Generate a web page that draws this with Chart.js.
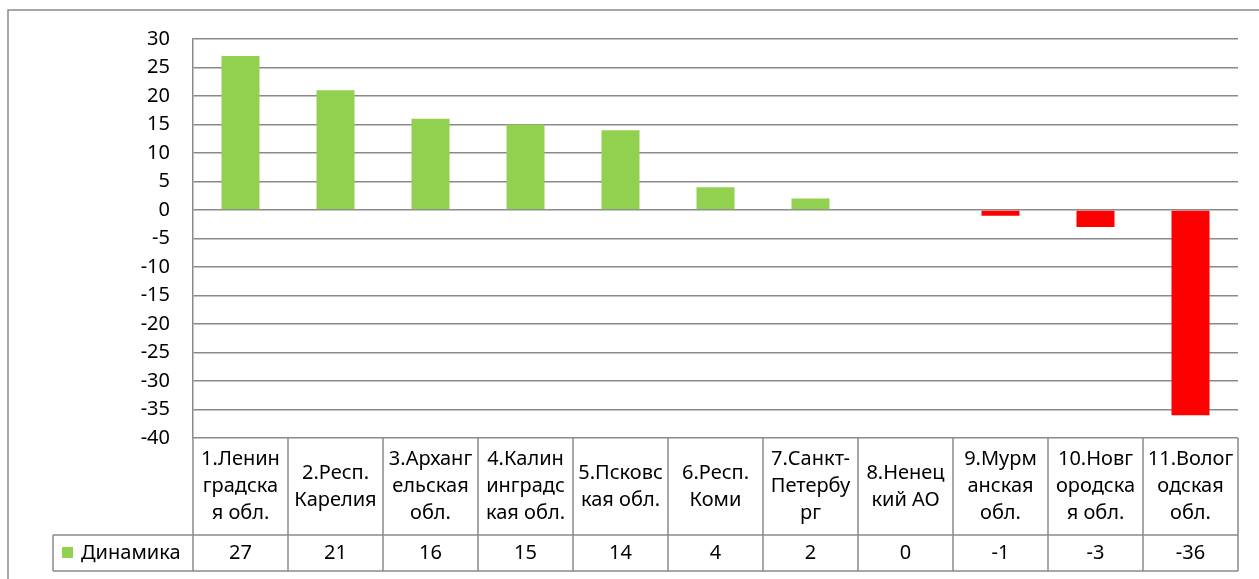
<!doctype html>
<html lang="ru"><head>
<meta charset="utf-8"/>
<title>Динамика</title>
<script src="https://cdn.jsdelivr.net/npm/chart.js@4.4.6/dist/chart.umd.min.js"></script>
<style>
  html,body{margin:0;padding:0;background:#fff}
  #wrap{position:absolute;left:0;top:0;width:1259px;height:579px}
</style></head>
<body>
<div id="wrap"><canvas id="c"></canvas></div>
<script>
// categories as they wrap inside the data-table cells
const CATEGORIES=[
  ['1.Ленин','градска','я обл.'],
  ['2.Респ.','Карелия'],
  ['3.Арханг','ельская','обл.'],
  ['4.Калин','инградс','кая обл.'],
  ['5.Псковс','кая обл.'],
  ['6.Респ.','Коми'],
  ['7.Санкт-','Петербу','рг'],
  ['8.Ненец','кий АО'],
  ['9.Мурм','анская','обл.'],
  ['10.Новг','ородска','я обл.'],
  ['11.Волог','одская','обл.']
];
const SERIES_NAME='Динамика';
const VALUES=[27,21,16,15,14,4,2,0,-1,-3,-36];
const Y_MIN=-40, Y_MAX=30, Y_STEP=5;

const GREEN='#92d050', RED='#ff0000', LINE='#8a8a8a', INK='#000';
const FONT='"Noto Sans", sans-serif';

// excel-like data table under the plot + outer frame
const table={
  id:'table',
  beforeDraw(ch){
    const c=ch.ctx;
    c.save();c.strokeStyle=LINE;c.lineWidth=1.5;
    c.beginPath();c.moveTo(8,ch.height+2);c.lineTo(8,10);c.lineTo(ch.width+2,10);c.stroke();
    c.restore();
  },
  afterDraw(ch){
    const c=ch.ctx, a=ch.chartArea, n=CATEGORIES.length, w=(a.right-a.left)/n;
    const top=a.bottom, mid=535, bot=571, legL=53;
    c.save();
    c.strokeStyle=LINE;c.lineWidth=1.5;
    c.beginPath();
    c.moveTo(legL,mid);c.lineTo(a.right,mid);
    c.moveTo(legL,bot);c.lineTo(a.right,bot);
    c.moveTo(legL,mid);c.lineTo(legL,bot);
    for(let i=0;i<=n;i++){const x=a.left+i*w;c.moveTo(x,top);c.lineTo(x,bot);}
    c.stroke();
    c.fillStyle=INK;c.font='20px '+FONT;c.textAlign='center';c.textBaseline='middle';
    const lh=27, hc=(top+mid)/2;
    CATEGORIES.forEach((lines,i)=>{
      const x=a.left+(i+.5)*w, y0=hc-(lines.length-1)*lh/2;
      lines.forEach((t,j)=>c.fillText(t,x,y0+j*lh));
      c.fillText(String(VALUES[i]),x,(mid+bot)/2);
    });
    c.fillStyle=GREEN;c.fillRect(62,547,11,11);
    c.fillStyle=INK;c.textAlign='left';c.fillText(SERIES_NAME,81,(mid+bot)/2);
    c.restore();
  }
};

new Chart(document.getElementById('c'),{
  type:'bar',
  data:{labels:CATEGORIES,datasets:[{label:SERIES_NAME,data:VALUES,
    backgroundColor:VALUES.map(v=>v<0?RED:GREEN),barPercentage:.4,categoryPercentage:1}]},
  options:{
    responsive:true,maintainAspectRatio:false,animation:false,
    layout:{padding:{left:0,top:39,right:21,bottom:141}},
    plugins:{legend:{display:false},tooltip:{enabled:false}},
    scales:{
      x:{display:false},
      y:{min:Y_MIN,max:Y_MAX,
        afterFit:s=>{s.width=193;},
        ticks:{stepSize:Y_STEP,color:INK,padding:23,font:{family:FONT,size:20}},
        grid:{color:LINE,lineWidth:1.5,drawTicks:false},
        border:{display:true,color:LINE,width:1.5}}
    }
  },
  plugins:[table]
});
</script>
</body></html>
